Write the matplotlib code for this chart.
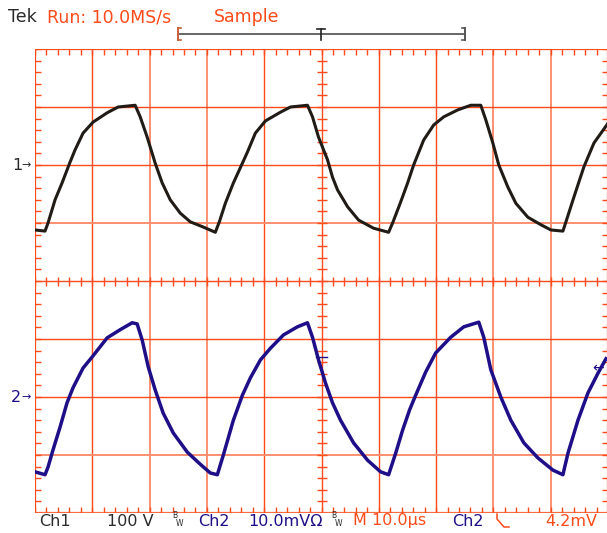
import matplotlib
matplotlib.use("Agg")
import matplotlib.pyplot as plt
import numpy as np

# ---- data (time in microseconds, Ch1 in volts, Ch2 in millivolts) ----
ch1_t = [0.0, 1.75, 2.27, 3.50, 4.72, 6.12, 6.99, 8.39, 10.14, 12.59, 14.51, 17.48,
         18.36, 19.58, 20.98, 22.20, 23.60, 25.35, 27.10, 29.37, 31.47,
         32.17, 33.22, 34.62, 36.19, 37.06, 38.46, 40.21, 42.83, 44.58, 47.55,
         48.43, 49.48, 51.05, 51.92, 52.80, 54.55, 56.47, 59.09, 61.71,
         62.41, 63.81, 65.03, 66.08, 67.83, 69.58, 71.33, 73.78, 76.05, 77.80,
         78.67, 79.90, 80.94, 82.52, 83.92, 86.01, 88.29, 90.03, 92.13,
         92.66, 94.06, 95.80, 97.55, 98.78, 100.0]
ch1_v = [-112, -114, -100, -60, -31, 5, 26, 55, 74, 90, 100, 103,
         83, 48, 3, -31, -60, -83, -98, -107, -116,
         -98, -66, -31, 3, 22, 55, 76, 91, 100, 103,
         83, 48, 9, -21, -43, -72, -95, -109, -116,
         -100, -64, -31, 0, 43, 69, 83, 95, 103, 103,
         78, 38, 0, -38, -66, -90, -103, -112, -114,
         -98, -55, -3, 38, 55, 72]

ch2_t = [0.0, 1.75, 2.27, 3.15, 4.37, 5.59, 6.64, 8.39, 9.97, 12.59, 14.86, 16.96,
         17.83, 18.71, 19.76, 20.98, 22.38, 24.13, 26.57, 28.85, 30.59, 31.82,
         32.87, 34.62, 36.19, 37.59, 39.34, 41.08, 43.36, 45.80, 47.55,
         48.43, 49.48, 50.70, 51.92, 53.32, 55.59, 58.04, 60.31, 61.71,
         62.94, 64.16, 65.38, 66.43, 68.18, 69.93, 72.55, 74.83, 77.45,
         78.32, 79.55, 81.29, 83.04, 85.31, 87.76, 90.38, 92.13,
         93.01, 94.76, 96.50, 98.25, 99.65]
ch2_mv = [-12.9, -13.4, -12.1, -9.1, -5.2, -1.0, 1.6, 5.0, 6.9, 10.2, 11.6, 12.8,
          12.6, 9.8, 5.2, 1.2, -2.8, -6.2, -9.5, -11.6, -13.1, -13.4,
          -10.0, -4.0, 0.3, 3.3, 6.4, 8.4, 10.7, 12.1, 12.8,
          10.3, 6.4, 2.4, -1.0, -4.0, -7.9, -10.9, -12.9, -13.4,
          -9.7, -5.7, -2.2, 0.3, 4.3, 7.6, 10.3, 12.1, 12.9,
          10.3, 4.7, 0.0, -4.0, -7.9, -10.5, -12.6, -13.4,
          -9.7, -4.0, 0.7, 4.1, 6.6]

ch1_scale = 100.0   # V/div
ch2_scale = 10.0    # mV/div
ch1_offset = 2.0    # div
ch2_offset = -2.0   # div
trig_level = 4.2    # mV

header_texts = ["Tek", "Run: 10.0MS/s", "Sample"]
bottom_texts = ["Ch1", "100 V", "Ch2", "10.0mV\u03a9", "M 10.0\u00b5s", "Ch2", "4.2mV"]

# ---- styling ----
W, H = 607, 533
GRID = "#ff4a1a"
GRID_LIGHT = "#fb8f70"
ORANGE = "#ff4a1a"
BLACK = "#211b16"
NAVY = "#1e0f88"
DARK = "#2a2a2a"

fig = plt.figure(figsize=(W / 100, H / 100), dpi=100, facecolor="white")

left_px, right_px, top_px, bot_px = 35, 608, 49, 513
ax = fig.add_axes([left_px / W, (H - bot_px) / H, (right_px - left_px) / W, (bot_px - top_px) / H])
ax.set_xlim(0, 100)
ax.set_ylim(-4, 4)
ax.axis("off")

# graticule
light_x = {20, 30, 80, 90}
light_y = {1, -3}
for xv in range(10, 100, 10):
    if xv in light_x:
        ax.axvline(xv, color=GRID_LIGHT, lw=1.4, zorder=1)
    else:
        ax.axvline(xv, color=GRID, lw=1.0, zorder=1)
for yv in range(-3, 4):
    if yv in light_y:
        ax.axhline(yv, color=GRID_LIGHT, lw=1.4, zorder=1)
    else:
        ax.axhline(yv, color=GRID, lw=1.0, zorder=1)
for xv in (0, 100):
    ax.axvline(xv, color=GRID, lw=1.6, zorder=1)
ax.axhline(4, color=GRID, lw=1.6, zorder=1)
ax.axhline(-4, color="#fc6a40", lw=1.6, zorder=1)

px_x = 100 / (right_px - left_px)   # data units per pixel in x
px_y = 8 / (bot_px - top_px)        # data units per pixel in y
tl = 6
segs = []
for xv in np.arange(0, 100.01, 2):
    segs.append(([xv, xv], [4, 4 - tl * px_y]))
    segs.append(([xv, xv], [-4, -4 + tl * px_y]))
    segs.append(([xv, xv], [-4.5 * px_y, 4.5 * px_y]))
for yv in np.arange(-4, 4.01, 0.2):
    segs.append(([0, tl * px_x], [yv, yv]))
    segs.append(([100, 100 - tl * px_x], [yv, yv]))
    segs.append(([50 - 5 * px_x, 50 + 5 * px_x], [yv, yv]))
for sx, sy in segs:
    ax.plot(sx, sy, color=GRID, lw=1.0, zorder=1, solid_capstyle="butt")

# traces
y1 = np.array(ch1_v) / ch1_scale + ch1_offset
y2 = np.array(ch2_mv) / ch2_scale + ch2_offset
ax.plot(ch1_t, y1, color=BLACK, lw=2.2, zorder=3, solid_joinstyle="round")
ax.plot(ch2_t, y2, color=NAVY, lw=2.5, zorder=3, solid_joinstyle="round")

# ---- overlay for annotations in pixel space ----
ov = fig.add_axes([0, 0, 1, 1], facecolor="none")
ov.set_xlim(0, W)
ov.set_ylim(H, 0)
ov.axis("off")

fs_h = 12.5
ov.text(8, 17, header_texts[0], color=DARK, fontsize=fs_h, va="center", ha="left")
ov.text(47, 17, header_texts[1], color=ORANGE, fontsize=fs_h, va="center", ha="left")
ov.text(214, 17, header_texts[2], color=ORANGE, fontsize=fs_h, va="center", ha="left")

# record-position bar
ov.plot([178, 465], [34, 34], color="#666666", lw=1.4)
ov.plot([178, 178], [28, 40], color="#c8603a", lw=1.4)
ov.plot([178, 181], [28, 28], color="#c8603a", lw=1.2)
ov.plot([178, 181], [40, 40], color="#c8603a", lw=1.2)
ov.plot([465, 465], [28, 40], color="#555555", lw=1.4)
ov.plot([462, 465], [28, 28], color="#555555", lw=1.2)
ov.plot([462, 465], [40, 40], color="#555555", lw=1.2)
ov.plot([321, 321], [29, 40], color="#222222", lw=1.2)
ov.plot([317, 325], [29, 29], color="#222222", lw=1.2)

# channel ground markers
y_ch1 = top_px + (4 - ch1_offset) * (bot_px - top_px) / 8
y_ch2 = top_px + (4 - ch2_offset) * (bot_px - top_px) / 8
ov.text(12, y_ch1, "1", color=DARK, fontsize=11.5, va="center", ha="left")
ov.text(21, y_ch1, "\u2192", color=DARK, fontsize=8, va="center", ha="left")
ov.text(11, y_ch2, "2", color=NAVY, fontsize=11.5, va="center", ha="left")
ov.text(21, y_ch2, "\u2192", color=NAVY, fontsize=8, va="center", ha="left")

# trigger level marker
y_trig = top_px + (4 - (trig_level / ch2_scale + ch2_offset)) * (bot_px - top_px) / 8
ov.text(592, y_trig - 4, "\u2190", color=NAVY, fontsize=10, va="center", ha="left")
ov.plot([316, 327], [357, 357], color=NAVY, lw=1.0)

# bottom status line
fs_b = 11.5
yb = 521
ov.text(39, yb, bottom_texts[0], color=DARK, fontsize=fs_b, va="center", ha="left")
ov.text(107, yb, bottom_texts[1], color=DARK, fontsize=fs_b, va="center", ha="left")
ov.text(172, yb - 5, "B", color=DARK, fontsize=5.5, va="center", ha="left")
ov.text(176, yb + 2, "W", color=DARK, fontsize=5.5, va="center", ha="left")
ov.text(198, yb, bottom_texts[2], color=NAVY, fontsize=fs_b, va="center", ha="left")
ov.text(248, yb, bottom_texts[3], color=NAVY, fontsize=fs_b, va="center", ha="left")
ov.text(331, yb - 5, "B", color=DARK, fontsize=5.5, va="center", ha="left")
ov.text(335, yb + 2, "W", color=DARK, fontsize=5.5, va="center", ha="left")
ov.text(353, yb, bottom_texts[4], color=ORANGE, fontsize=fs_b, va="center", ha="left")
ov.text(452, yb, bottom_texts[5], color=NAVY, fontsize=fs_b, va="center", ha="left")
ov.plot([497, 497, 504, 509], [514, 519, 527, 527], color=ORANGE, lw=1.1)
ov.text(545, yb, bottom_texts[6], color=ORANGE, fontsize=fs_b, va="center", ha="left")

fig.savefig("out.png", dpi=100, facecolor="white")
